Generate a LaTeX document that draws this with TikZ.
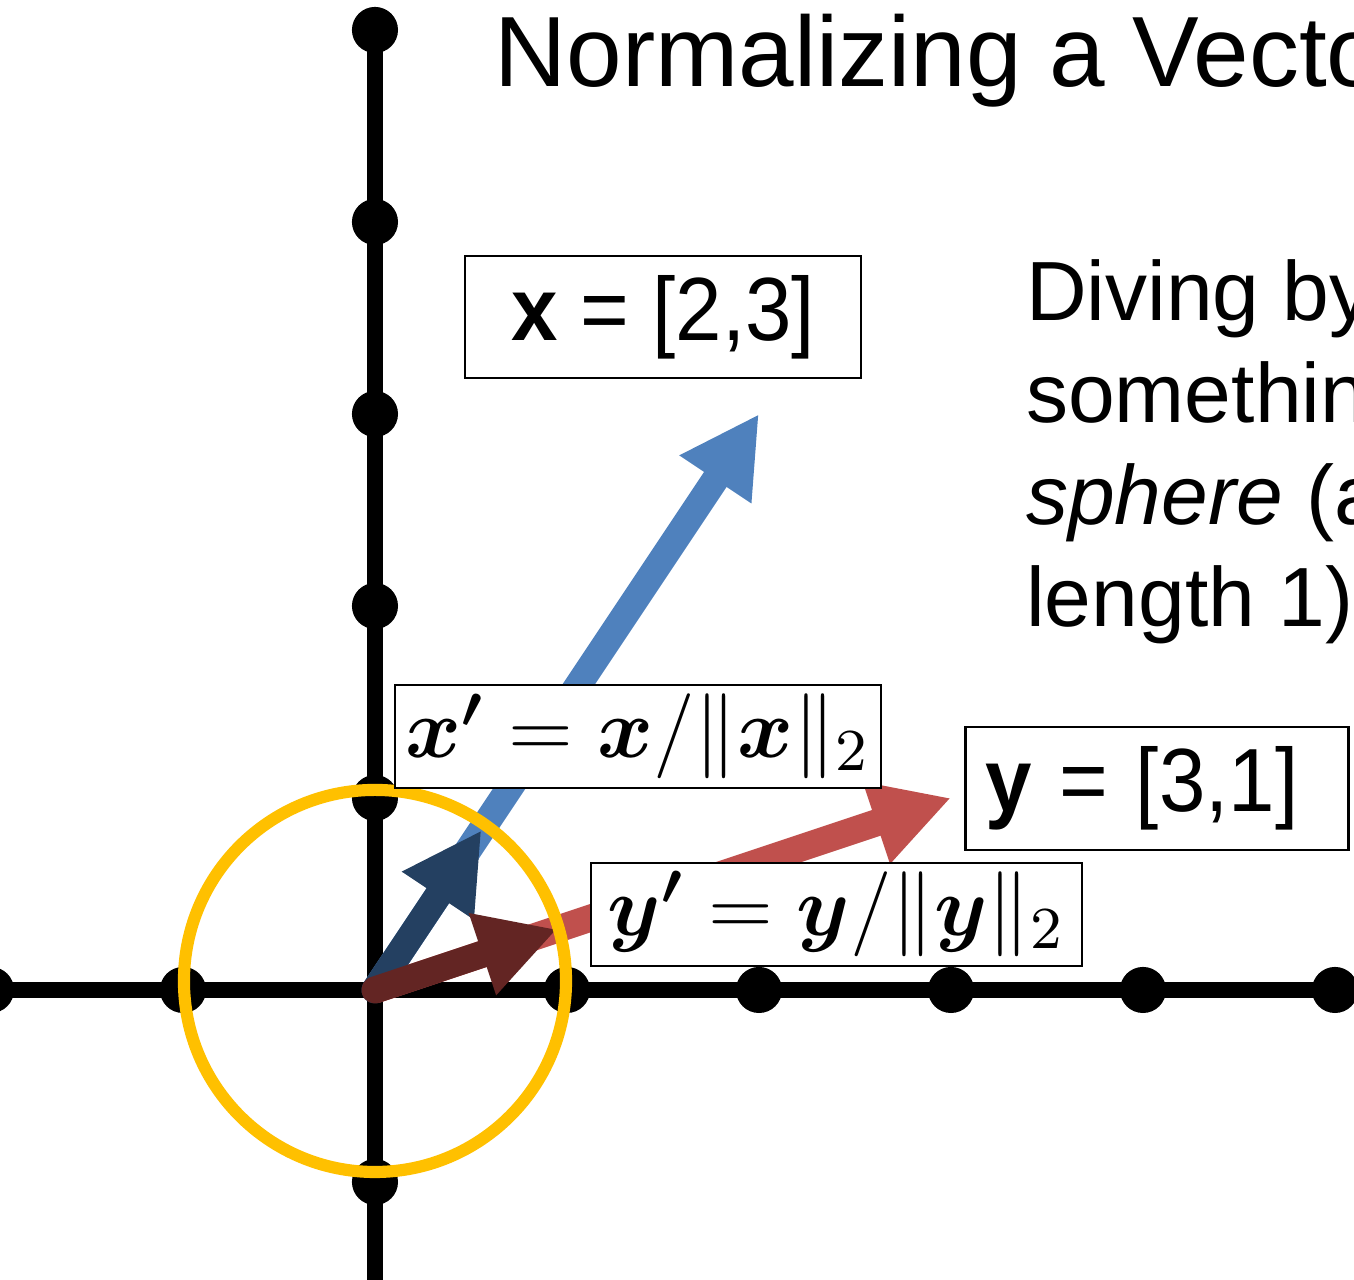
\RequirePackage{fix-cm}
\documentclass[tikz,border=0pt]{standalone}
\usepackage{amsmath}
\usepackage[no-math]{fontspec}
\setmainfont{Liberation Sans}
\usetikzlibrary{arrows.meta}
\definecolor{vecblue}{RGB}{79,129,189}
\definecolor{vecred}{RGB}{192,80,77}
\definecolor{unitblue}{RGB}{36,64,97}
\definecolor{unitred}{RGB}{99,37,35}
\definecolor{sphereyellow}{RGB}{255,192,0}
% slightly condensed box labels
\newcommand{\boxtext}[1]{\scalebox{0.93}[1]{#1}}

\begin{document}
\begin{tikzpicture}[x=1cm,y=1cm,
  axisline/.style={line width=2.4pt},
  gridpt/.style={circle, fill=black, inner sep=0pt, minimum size=0.24cm},
  vecline/.style={line width=4pt, -{Triangle[length=0.41cm,width=0.42cm]}},
  labelbox/.style={draw, line width=0.4pt, fill=white, inner sep=0pt},
  mathlabel/.style={labelbox, minimum height=0.536cm, font=\fontsize{12.6}{15}\selectfont}
]

% ── Frame: same proportions as the slide crop ───────────────────────────────
\useasboundingbox (-1.953,-1.510) rectangle (5.099,5.156);
\clip (-1.953,-1.510) rectangle (5.099,5.156);

% ════════════════════════════════════════════════════════════════════════════
% AXES with integer grid points
% ════════════════════════════════════════════════════════════════════════════
\draw[axisline] (-2,0) -- (5,0);
\draw[axisline] (0,-2) -- (0,5);
\foreach \i in {-2,-1,1,2,3,4,5}{
  \node[gridpt] (px\i) at (\i,0) {};
}
\foreach \j in {-2,-1,1,2,3,4,5}{
  \node[gridpt] (py\j) at (0,\j) {};
}

% ════════════════════════════════════════════════════════════════════════════
% VECTORS and their normalized versions
% ════════════════════════════════════════════════════════════════════════════
\coordinate (O) at (0,0);
\coordinate (xtip) at (2,3);
\coordinate (ytip) at (3,1);
\coordinate (xunit) at ({2/sqrt(13)},{3/sqrt(13)});
\coordinate (yunit) at ({3/sqrt(10)},{1/sqrt(10)});

\draw[vecline, vecblue] (O) -- (xtip);
\draw[vecline, vecred] (O) -- (ytip);
\draw[vecline, unitblue, line cap=round] (O) -- (xunit);
\draw[vecline, unitred, line cap=round] (O) -- (yunit);

% Unit sphere (circle of radius 1)
\draw[sphereyellow, line width=1.8pt] (0,0.047) circle (0.995);

% ════════════════════════════════════════════════════════════════════════════
% LABEL BOXES
% ════════════════════════════════════════════════════════════════════════════
\node[labelbox, minimum width=2.0625cm, minimum height=0.635cm,
      font=\fontsize{13.3}{16}\selectfont] (xlab) at (1.5,3.505)
  {\boxtext{\textbf{x} = [2,3]}};
\node[labelbox, minimum height=0.64cm, text width=1.79cm, inner xsep=0.104cm,
      align=left, font=\fontsize{13.3}{16}\selectfont] (ylab) at (4.073,1.049)
  {\boxtext{\textbf{y} = [3,1]}};
\node[mathlabel, minimum width=2.531cm] (xnlab) at (1.370,1.320)
  {$\boldsymbol{x'} = \boldsymbol{x}/\|\boldsymbol{x}\|_2$};
\node[mathlabel, minimum width=2.557cm] (ynlab) at (2.404,0.393)
  {$\boldsymbol{y'} = \boldsymbol{y}/\|\boldsymbol{y}\|_2$};

% ════════════════════════════════════════════════════════════════════════════
% TITLE and side note
% ════════════════════════════════════════════════════════════════════════════
\node[anchor=base west, inner sep=0pt, font=\fontsize{14.8}{17}\selectfont]
  (title) at (0.615,4.703) {Normalizing a Vector};

\node[anchor=north west, inner sep=0pt, align=left,
      font=\fontsize{12.45}{15.1}\selectfont] (note) at (3.385,3.81) {
  Diving by the\\
  something to\\
  \textit{sphere} (all\\
  length 1)
};

\end{tikzpicture}
\end{document}
